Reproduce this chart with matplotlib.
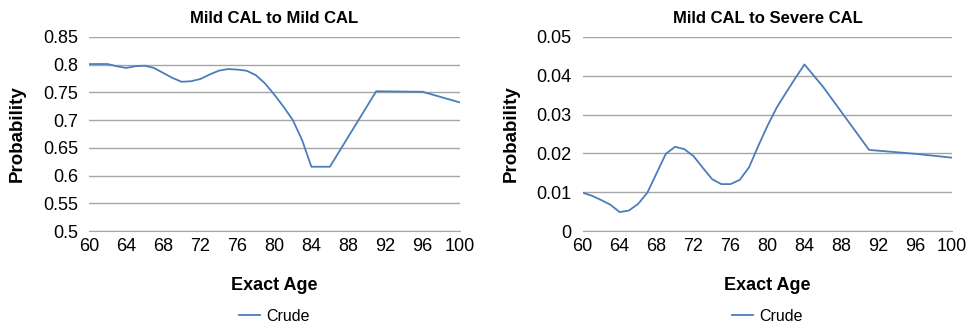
import matplotlib.pyplot as plt
import numpy as np

plt.rcParams["font.family"] = ["Liberation Sans", "DejaVu Sans"]

# ages where the crude rates are given
ages = [60, 61, 62, 63, 64, 65, 66, 67, 68, 69, 70, 71, 72, 73, 74, 75, 76,
        77, 78, 79, 80, 81, 82, 83, 84, 86, 91, 96, 100]

mild_to_mild = [0.801, 0.801, 0.801, 0.797, 0.794, 0.797, 0.798, 0.794, 0.785,
                0.776, 0.769, 0.770, 0.774, 0.782, 0.789, 0.792, 0.791, 0.789,
                0.781, 0.766, 0.746, 0.724, 0.700, 0.664, 0.616, 0.616, 0.752,
                0.751, 0.732]

mild_to_severe = [0.0099, 0.0091, 0.0080, 0.0068, 0.0049, 0.0053, 0.0070,
                  0.0099, 0.0149, 0.0199, 0.0217, 0.0211, 0.0193, 0.0163,
                  0.0134, 0.0121, 0.0121, 0.0132, 0.0164, 0.0219, 0.0271,
                  0.0318, 0.0356, 0.0393, 0.0429, 0.0372, 0.0209, 0.0199,
                  0.0189]

x_ticks = list(range(60, 101, 4))
yticks_left = [0.5, 0.55, 0.6, 0.65, 0.7, 0.75, 0.8, 0.85]
ylabels_left = ["0.5", "0.55", "0.6", "0.65", "0.7", "0.75", "0.8", "0.85"]
yticks_right = [0, 0.01, 0.02, 0.03, 0.04, 0.05]
ylabels_right = ["0", "0.01", "0.02", "0.03", "0.04", "0.05"]

LINE = "#4a7ebb"
GRID = "#a6a6a6"

fig = plt.figure(figsize=(9.7, 3.26), dpi=100)
ax1 = fig.add_axes([0.0918, 0.291, 0.382, 0.596])
ax2 = fig.add_axes([0.6007, 0.291, 0.381, 0.596])


def style(ax, title, yticks, ylabels, ylim):
    ax.set_xlim(60, 100)
    ax.set_ylim(*ylim)
    ax.set_xticks(x_ticks)
    ax.set_xticklabels([str(t) for t in x_ticks])
    ax.set_yticks(yticks)
    ax.set_yticklabels(ylabels)
    ax.tick_params(axis="both", length=0, labelsize=13)
    ax.tick_params(axis="y", pad=8)
    ax.tick_params(axis="x", pad=5)
    for s in ["top", "right", "left"]:
        ax.spines[s].set_visible(False)
    ax.spines["bottom"].set_color(GRID)
    ax.grid(axis="y", color=GRID, linewidth=1.0)
    ax.set_axisbelow(True)
    ax.set_title(title, fontsize=12, fontweight="bold", pad=10)
    ax.set_ylabel("Probability", fontsize=13.5, fontweight="bold", labelpad=12)
    ax.set_xlabel("Exact Age", fontsize=13, fontweight="bold", labelpad=16)
    ax.legend(loc="upper center", bbox_to_anchor=(0.5, -0.325), frameon=False,
              fontsize=11.5, handlelength=1.3, handletextpad=0.4)


ax1.plot(ages, mild_to_mild, color=LINE, linewidth=1.3, label="Crude")
ax2.plot(ages, mild_to_severe, color=LINE, linewidth=1.3, label="Crude")

style(ax1, "Mild CAL to Mild CAL", yticks_left, ylabels_left, (0.5, 0.85))
style(ax2, "Mild CAL to Severe CAL", yticks_right, ylabels_right, (0, 0.05))

fig.savefig("out.png", dpi=100)
